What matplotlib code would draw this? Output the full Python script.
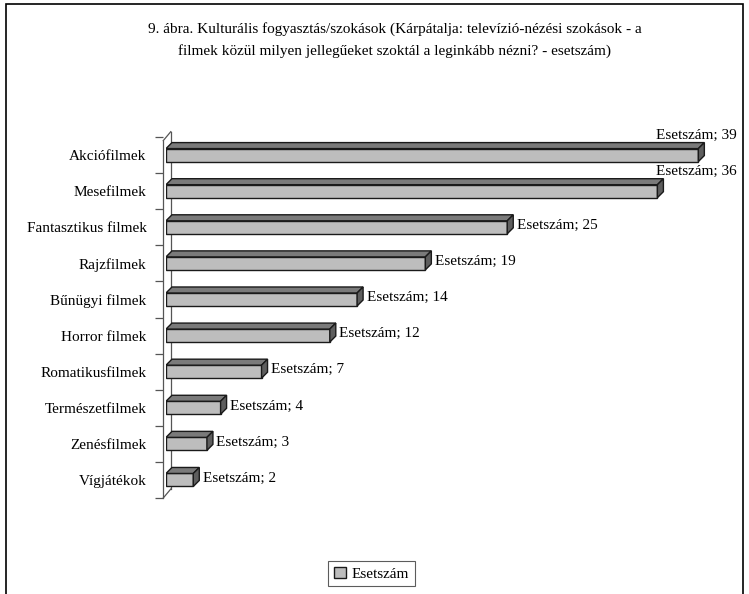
import matplotlib.pyplot as plt
from matplotlib.patches import Polygon, Rectangle, Patch
from matplotlib.transforms import ScaledTranslation

plt.rcParams['font.family'] = ['Liberation Serif', 'DejaVu Serif']

# data
categories = ['Akciófilmek', 'Mesefilmek', 'Fantasztikus filmek', 'Rajzfilmek',
              'Bűnügyi filmek', 'Horror filmek', 'Romatikusfilmek',
              'Természetfilmek', 'Zenésfilmek', 'Vígjátékok']
values = [39, 36, 25, 19, 14, 12, 7, 4, 3, 2]
series_name = 'Esetszám'
title = ('9. ábra. Kulturális fogyasztás/szokások (Kárpátalja: televízió-nézési szokások - a\n'
         'filmek közül milyen jellegűeket szoktál a leginkább nézni? - esetszám)')

front = '#bdbdbd'
top = '#7a7a7a'
side = '#5e5e5e'
edge = '#1a1a1a'

fig = plt.figure(figsize=(7.49, 5.94), dpi=100)
ax = fig.add_axes([0.2216, 0.1616, 0.7290, 0.6077])

n = len(categories)
ys = list(range(n))
bh = 0.36
dx = 0.44   # depth in data units (x)
dy = 0.166  # depth in data units (y), upward = smaller y since inverted

ax.barh(ys, values, height=bh, color=front, edgecolor=edge, linewidth=1.0, zorder=3)
for y, v in zip(ys, values):
    y_top = y - bh / 2
    y_bot = y + bh / 2
    ax.add_patch(Polygon([(0, y_top), (v, y_top), (v + dx, y_top - dy), (dx, y_top - dy)],
                         closed=True, facecolor=top, edgecolor=edge, linewidth=1.0, zorder=3))
    ax.add_patch(Polygon([(v, y_top), (v + dx, y_top - dy), (v + dx, y_bot - dy), (v, y_bot)],
                         closed=True, facecolor=side, edgecolor=edge, linewidth=1.0, zorder=3))
    label = f'{series_name}; {v}'
    if v >= 30:
        # labels that would run off the plot sit above the bar, flush right
        ax.text(1.046, y - 0.55, label, ha='right', va='center', fontsize=11,
                transform=ax.get_yaxis_transform())
    else:
        ax.text(v + dx + 0.25, y - 0.05, label, ha='left', va='center', fontsize=11)

ax.set_xlim(0, 40)
ax.set_ylim(n - 0.5, -0.5)

# 3d wall
ymin, ymax = -0.5, n - 0.5
wall = dict(color='#555555', linewidth=0.9, clip_on=False, zorder=2)
ax.plot([-0.2, -0.2], [ymin + 0.1, ymax], **wall)
ax.plot([dx * 0.8, dx * 0.8], [ymin + 0.1 - dy * 1.5, ymax - dy * 1.5], **wall)
ax.plot([-0.2, dx * 0.8], [ymin + 0.1, ymin + 0.1 - dy * 1.5], **wall)
ax.plot([-0.2, dx * 0.8], [ymax, ymax - dy * 1.5], **wall)

for s in ax.spines.values():
    s.set_visible(False)
ax.set_xticks([])
ax.set_yticks(ys)
ax.set_yticklabels(categories, fontsize=11)
ax.tick_params(axis='y', length=0, pad=14)
ax.set_yticks([i + 0.5 for i in range(-1, n)], minor=True)
ax.tick_params(axis='y', which='minor', length=6, color='#555555', width=0.9, pad=0)
shift = ScaledTranslation(-0.03, 0, fig.dpi_scale_trans)
for t in ax.yaxis.get_minorticklines():
    t.set_transform(t.get_transform() + shift)

fig.text(0.527, 0.933, title, ha='center', va='center', fontsize=11, linespacing=1.7)

leg = fig.legend(handles=[Patch(facecolor=front, edgecolor=edge, label=series_name)],
                 loc='center', bbox_to_anchor=(0.496, 0.034), fontsize=11,
                 fancybox=False, edgecolor='#333333', handlelength=0.8, handleheight=0.8,
                 handletextpad=0.4, borderpad=0.35)
leg.get_frame().set_linewidth(0.8)

fig.patches.append(Rectangle((0.008, -0.01), 0.984, 1.003, transform=fig.transFigure,
                             fill=False, edgecolor='black', linewidth=1.2))

fig.savefig('out.png', dpi=100)
